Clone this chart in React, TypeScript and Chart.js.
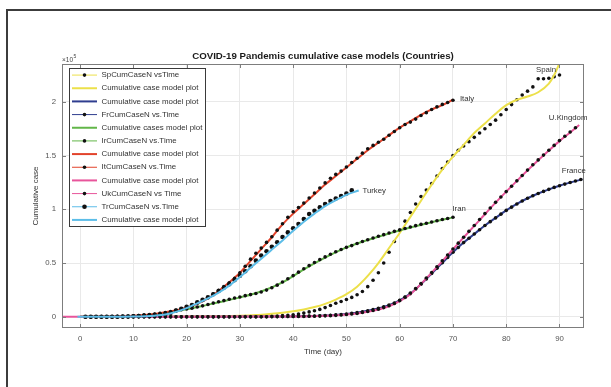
import React, { useEffect, useRef } from "react";
import { Chart, registerables } from "chart.js";
Chart.register(...registerables);

// ---------- axes ----------
const X_TICKS = [0, 10, 20, 30, 40, 50, 60, 70, 80, 90];
const Y_TICKS = [0, 0.5, 1, 1.5, 2];
const X_MIN = -3.4;
const X_MAX = 94.6;
const Y_MIN = -0.105;
const Y_MAX = 2.353;

// ---------- observed cumulative cases (x10^5), one value per day ----------
const SPAIN_START = 1;
const SPAIN_CASES = [
  0, 0, 0, 0, 0, 0, 0, 0, 0, 0, 0, 0, 0, 0, 0, 0, 0, 0, 0, 0, 0, 0, 0, 0, 0, 0, 0, 0, 0,
  0.0, 0.001, 0.001, 0.001, 0.002, 0.003, 0.005, 0.007, 0.01, 0.014,
  0.019, 0.026, 0.035, 0.045, 0.056, 0.068, 0.085, 0.105, 0.125, 0.142,
  0.16, 0.18, 0.205, 0.235, 0.28, 0.34, 0.41, 0.5, 0.6, 0.7,
  0.8, 0.89, 0.97, 1.05, 1.12, 1.18, 1.24, 1.31, 1.38, 1.44,
  1.5, 1.55, 1.59, 1.63, 1.67, 1.71, 1.75, 1.79, 1.83, 1.88,
  1.93, 1.975, 2.02, 2.065, 2.1, 2.14, 2.215, 2.215, 2.22, 2.235, 2.25,
];

const ITALY_START = 1;
const ITALY_CASES = [
  0.0, 0.0, 0.0, 0.001, 0.002, 0.002, 0.003, 0.004, 0.007, 0.009,
  0.011, 0.017, 0.02, 0.025, 0.031, 0.039, 0.046, 0.059, 0.074, 0.092,
  0.101, 0.125, 0.151, 0.177, 0.212, 0.247, 0.28, 0.315, 0.357, 0.41,
  0.47, 0.536, 0.591, 0.639, 0.692, 0.744, 0.806, 0.865, 0.925, 0.977,
  1.017, 1.058, 1.106, 1.152, 1.198, 1.246, 1.289, 1.325, 1.356, 1.394,
  1.436, 1.476, 1.523, 1.564, 1.595, 1.625, 1.652, 1.689, 1.724, 1.759,
  1.79, 1.812, 1.84, 1.873, 1.9, 1.93, 1.954, 1.977, 1.994, 2.015,
];

const IRAN_START = 1;
const IRAN_CASES = [
  0, 0, 0, 0, 0, 0.001, 0.001, 0.001, 0.002, 0.004,
  0.006, 0.01, 0.015, 0.023, 0.029, 0.035, 0.047, 0.058, 0.066, 0.072,
  0.08, 0.09, 0.101, 0.114, 0.127, 0.139, 0.15, 0.162, 0.174, 0.184,
  0.196, 0.206, 0.216, 0.23, 0.248, 0.27, 0.294, 0.323, 0.354, 0.383,
  0.415, 0.446, 0.476, 0.505, 0.532, 0.557, 0.582, 0.605, 0.626, 0.646,
  0.662, 0.682, 0.7, 0.717, 0.733, 0.749, 0.764, 0.78, 0.795, 0.809,
  0.822, 0.835, 0.848, 0.86, 0.87, 0.882, 0.893, 0.905, 0.915, 0.926,
];

const TURKEY_START = 1;
const TURKEY_CASES = [
  0, 0, 0, 0, 0, 0, 0, 0.001, 0.002, 0.004,
  0.007, 0.009, 0.012, 0.015, 0.019, 0.024, 0.036, 0.057, 0.074, 0.092,
  0.108, 0.135, 0.157, 0.181, 0.209, 0.239, 0.271, 0.302, 0.341, 0.382,
  0.423, 0.47, 0.522, 0.57, 0.61, 0.651, 0.694, 0.742, 0.785, 0.823,
  0.863, 0.91, 0.956, 0.987, 1.018, 1.049, 1.078, 1.101, 1.123, 1.147,
  1.176,
];

const UK_START = 1;
const UK_CASES = [
  0, 0, 0, 0, 0, 0, 0, 0, 0, 0, 0, 0, 0, 0, 0, 0, 0, 0, 0, 0,
  0, 0, 0, 0, 0, 0, 0, 0, 0, 0, 0, 0, 0, 0, 0,
  0.001, 0.001, 0.001, 0.002, 0.002, 0.003, 0.003, 0.004, 0.005, 0.006,
  0.008, 0.01, 0.013, 0.016, 0.02, 0.025, 0.031, 0.039, 0.048, 0.058,
  0.07, 0.085, 0.102, 0.123, 0.15, 0.182, 0.22, 0.263, 0.31, 0.36,
  0.412, 0.465, 0.52, 0.575, 0.63, 0.685, 0.74, 0.795, 0.85, 0.905,
  0.96, 1.012, 1.065, 1.115, 1.165, 1.215, 1.265, 1.315, 1.365, 1.415,
  1.46, 1.505, 1.55, 1.595, 1.64, 1.68, 1.72, 1.76,
];

const FRANCE_START = 1;
const FRANCE_CASES = [
  0, 0, 0, 0, 0, 0, 0, 0, 0, 0, 0, 0, 0, 0, 0, 0, 0, 0, 0, 0,
  0, 0, 0, 0, 0, 0, 0, 0, 0, 0, 0, 0, 0, 0, 0,
  0.001, 0.001, 0.002, 0.002, 0.003, 0.004, 0.005, 0.006, 0.007, 0.009,
  0.011, 0.014, 0.017, 0.021, 0.026, 0.031, 0.038, 0.046, 0.055, 0.066,
  0.079, 0.093, 0.109, 0.128, 0.152, 0.18, 0.215, 0.257, 0.303, 0.352,
  0.402, 0.452, 0.502, 0.552, 0.6, 0.645, 0.69, 0.73, 0.77, 0.81,
  0.85, 0.885, 0.92, 0.955, 0.99, 1.02, 1.05, 1.078, 1.103, 1.127,
  1.147, 1.167, 1.186, 1.204, 1.22, 1.235, 1.249, 1.263, 1.277,
];

// ---------- fitted model curves (x10^5) ----------
const SPAIN_MODEL_DAY = [0, 10, 20, 25, 30, 33, 36, 38, 40, 42, 44, 46, 48, 50, 52, 54, 56, 58, 60, 62, 64, 66, 68, 70, 72, 74, 76, 78, 80, 82, 84, 86, 88, 89, 90];
const SPAIN_MODEL_VAL = [0, 0.001, 0.002, 0.004, 0.008, 0.015, 0.028, 0.038, 0.05, 0.068, 0.09, 0.12, 0.16, 0.21, 0.28, 0.38, 0.5, 0.64, 0.78, 0.93, 1.08, 1.23, 1.37, 1.49, 1.6, 1.71, 1.8, 1.89, 1.97, 2.02, 2.05, 2.09, 2.17, 2.25, 2.36];

const ITALY_MODEL_DAY = [0, 5, 10, 14, 17, 20, 22, 24, 26, 28, 30, 32, 34, 36, 38, 40, 42, 44, 46, 48, 50, 52, 54, 56, 58, 60, 62, 64, 66, 68, 70];
const ITALY_MODEL_VAL = [0, 0.002, 0.008, 0.025, 0.05, 0.085, 0.12, 0.17, 0.24, 0.32, 0.41, 0.52, 0.63, 0.74, 0.86, 0.96, 1.05, 1.14, 1.23, 1.31, 1.39, 1.47, 1.55, 1.62, 1.69, 1.76, 1.82, 1.88, 1.93, 1.97, 2.02];

const IRAN_MODEL_DAY = [0, 5, 10, 14, 18, 22, 26, 30, 34, 38, 42, 46, 50, 54, 58, 62, 66, 70];
const IRAN_MODEL_VAL = [0, 0.001, 0.005, 0.02, 0.05, 0.09, 0.135, 0.18, 0.235, 0.32, 0.44, 0.55, 0.645, 0.715, 0.775, 0.83, 0.88, 0.925];

const TURKEY_MODEL_DAY = [-0.5, 5, 10, 14, 16, 18, 20, 22, 24, 26, 28, 30, 32, 34, 36, 38, 40, 42, 44, 46, 48, 50, 52.3];
const TURKEY_MODEL_VAL = [0, 0, 0.002, 0.01, 0.02, 0.045, 0.08, 0.125, 0.17, 0.225, 0.29, 0.37, 0.455, 0.54, 0.625, 0.71, 0.8, 0.885, 0.96, 1.03, 1.085, 1.135, 1.175];

const UK_MODEL_DAY = [-3.4, 0, 20, 35, 40, 45, 50, 54, 58, 60, 62, 64, 66, 68, 70, 72, 75, 78, 80, 82, 85, 88, 90, 92, 93.7];
const UK_MODEL_VAL = [0, 0, 0, 0.001, 0.002, 0.006, 0.02, 0.046, 0.098, 0.146, 0.21, 0.305, 0.41, 0.518, 0.628, 0.738, 0.9, 1.062, 1.165, 1.265, 1.41, 1.548, 1.635, 1.715, 1.785];

const FRANCE_MODEL_DAY = [0, 20, 35, 40, 45, 50, 54, 58, 60, 62, 64, 66, 68, 70, 72, 74, 76, 78, 80, 82, 84, 86, 88, 90, 92, 94.3];
const FRANCE_MODEL_VAL = [0, 0, 0.001, 0.003, 0.009, 0.026, 0.055, 0.108, 0.152, 0.215, 0.303, 0.402, 0.502, 0.6, 0.69, 0.77, 0.85, 0.92, 0.99, 1.05, 1.103, 1.147, 1.186, 1.22, 1.249, 1.28];

// ---------- text ----------
const TITLE = "COVID-19 Pandemis cumulative case models (Countries)";
const X_TITLE = "Time (day)";
const Y_TITLE = "Cumulative case";
const COUNTRY_NAMES = ["Italy", "Spain", "U.Kingdom", "France", "Iran", "Turkey"];
const COUNTRY_LABEL_DAY = [71.3, 85.6, 88, 90.4, 69.9, 53];
const COUNTRY_LABEL_VAL = [2.025, 2.3, 1.85, 1.355, 1.0, 1.17];

const C_SPAIN = "#ece04a";
const C_FRANCE = "#2f3d8f";
const C_IRAN = "#62b649";
const C_ITALY = "#e2432b";
const C_UK = "#e8559b";
const C_TURKEY = "#5cbde8";

const FONT = '"Liberation Sans", Arial, Helvetica, sans-serif';
const FRAME = "#7d7d7d";

const seq = (start: number, vals: number[]) => vals.map((v, i) => ({ x: start + i, y: v }));
const pairs = (xs: number[], ys: number[]) => xs.map((x, i) => ({ x, y: ys[i] }));

type Series = { label: string; kind: "data" | "model"; color: string; pts: { x: number; y: number }[]; big?: boolean };

const SERIES: Series[] = [
  { label: "SpCumCaseN vsTime", kind: "data", color: C_SPAIN, pts: seq(SPAIN_START, SPAIN_CASES) },
  { label: "Cumulative case model plot", kind: "model", color: C_SPAIN, pts: pairs(SPAIN_MODEL_DAY, SPAIN_MODEL_VAL) },
  { label: "Cumulative case model plot", kind: "model", color: C_FRANCE, pts: pairs(FRANCE_MODEL_DAY, FRANCE_MODEL_VAL) },
  { label: "FrCumCaseN vs.Time", kind: "data", color: C_FRANCE, pts: seq(FRANCE_START, FRANCE_CASES) },
  { label: "Cumulative cases model plot", kind: "model", color: C_IRAN, pts: pairs(IRAN_MODEL_DAY, IRAN_MODEL_VAL) },
  { label: "IrCumCaseN vs.Time", kind: "data", color: C_IRAN, pts: seq(IRAN_START, IRAN_CASES) },
  { label: "Cumulative case model plot", kind: "model", color: C_ITALY, pts: pairs(ITALY_MODEL_DAY, ITALY_MODEL_VAL) },
  { label: "ItCumCaseN vs.Time", kind: "data", color: C_ITALY, pts: seq(ITALY_START, ITALY_CASES) },
  { label: "Cumulative case model plot", kind: "model", color: C_UK, pts: pairs(UK_MODEL_DAY, UK_MODEL_VAL) },
  { label: "UkCumCaseN vs Time", kind: "data", color: C_UK, pts: seq(UK_START, UK_CASES) },
  { label: "TrCumCaseN vs.Time", kind: "data", color: C_TURKEY, pts: seq(TURKEY_START, TURKEY_CASES), big: true },
  { label: "Cumulative case model plot", kind: "model", color: C_TURKEY, pts: pairs(TURKEY_MODEL_DAY, TURKEY_MODEL_VAL) },
];

const decor = {
  id: "decor",
  afterDatasetsDraw(chart: any) {
    const { ctx, chartArea, scales } = chart;
    const { left, right, top, bottom } = chartArea;
    const xs = scales.x;
    const ys = scales.y;
    ctx.save();
    // frame
    ctx.strokeStyle = FRAME;
    ctx.lineWidth = 1;
    ctx.strokeRect(Math.round(left) + 0.5, Math.round(top) + 0.5, Math.round(right - left) - 1, Math.round(bottom - top) - 1);
    // inward ticks
    ctx.beginPath();
    X_TICKS.forEach((v) => {
      const px = Math.round(xs.getPixelForValue(v)) + 0.5;
      ctx.moveTo(px, bottom);
      ctx.lineTo(px, bottom - 4);
      ctx.moveTo(px, top);
      ctx.lineTo(px, top + 4);
    });
    Y_TICKS.forEach((v) => {
      const py = Math.round(ys.getPixelForValue(v)) + 0.5;
      ctx.moveTo(left, py);
      ctx.lineTo(left + 4, py);
      ctx.moveTo(right, py);
      ctx.lineTo(right - 4, py);
    });
    ctx.stroke();

    // country labels
    ctx.fillStyle = "#333";
    ctx.font = `7.8px ${FONT}`;
    ctx.textAlign = "left";
    ctx.textBaseline = "middle";
    COUNTRY_NAMES.forEach((n, i) => {
      ctx.fillText(n, xs.getPixelForValue(COUNTRY_LABEL_DAY[i]), ys.getPixelForValue(COUNTRY_LABEL_VAL[i]));
    });

    // legend
    const bx = 69, by = 68, bw = 136, bh = 158;
    ctx.fillStyle = "#fff";
    ctx.fillRect(bx, by, bw, bh);
    ctx.strokeStyle = "#3a3a3a";
    ctx.lineWidth = 1;
    ctx.strokeRect(bx + 0.5, by + 0.5, bw, bh);
    const rowH = bh / SERIES.length;
    SERIES.forEach((s, i) => {
      const cy = by + rowH * (i + 0.5) + 0.5;
      ctx.strokeStyle = s.color;
      ctx.lineWidth = s.kind === "model" ? 2 : 1;
      ctx.beginPath();
      ctx.moveTo(72, cy);
      ctx.lineTo(97, cy);
      ctx.stroke();
      if (s.kind === "data") {
        ctx.fillStyle = "#111";
        ctx.beginPath();
        ctx.arc(84.5, cy, s.big ? 2.3 : 1.8, 0, Math.PI * 2);
        ctx.fill();
      }
      ctx.fillStyle = "#333";
      ctx.font = `7.9px ${FONT}`;
      ctx.textAlign = "left";
      ctx.textBaseline = "middle";
      ctx.fillText(s.label, 101.5, cy);
    });

    // title
    ctx.fillStyle = "#1a1a1a";
    ctx.font = `bold 9.7px ${FONT}`;
    ctx.textAlign = "center";
    ctx.textBaseline = "middle";
    ctx.fillText(TITLE, (left + right) / 2, 56);

    // exponent
    ctx.fillStyle = "#444";
    ctx.font = `6.5px ${FONT}`;
    ctx.textAlign = "left";
    ctx.textBaseline = "alphabetic";
    ctx.fillText("\u00d710", 62, 62);
    ctx.font = `5px ${FONT}`;
    ctx.fillText("5", 73.5, 57.5);

    // axis titles
    ctx.fillStyle = "#333";
    ctx.font = `8px ${FONT}`;
    ctx.textAlign = "center";
    ctx.textBaseline = "middle";
    ctx.fillText(X_TITLE, (left + right) / 2, 352);
    ctx.translate(36, (top + bottom) / 2);
    ctx.rotate(-Math.PI / 2);
    ctx.fillText(Y_TITLE, 0, 0);
    ctx.restore();
  },
};

export default function App() {
  const ref = useRef<HTMLCanvasElement | null>(null);
  useEffect(() => {
    if (!ref.current) return;
    const n = SERIES.length;
    const datasets = SERIES.map((s, i) =>
      s.kind === "data"
        ? {
            label: s.label,
            data: s.pts,
            showLine: false,
            borderColor: s.color,
            pointRadius: s.big ? 2.3 : 1.8,
            pointBackgroundColor: "#111",
            pointBorderWidth: 0,
            pointHoverRadius: 0,
            order: n - i,
          }
        : {
            label: s.label,
            data: s.pts,
            borderColor: s.color,
            borderWidth: 2,
            pointRadius: 0,
            pointHoverRadius: 0,
            cubicInterpolationMode: "monotone" as const,
            fill: false,
            order: n - i,
          }
    );
    const chart = new Chart(ref.current, {
      type: "line",
      data: { datasets: datasets as any },
      options: {
        responsive: false,
        animation: false,
        devicePixelRatio: 1,
        layout: { padding: { left: 0, top: 64, right: 27, bottom: 0 } },
        plugins: { legend: { display: false }, title: { display: false }, tooltip: { enabled: false } },
        events: [],
        scales: {
          x: {
            type: "linear",
            min: X_MIN,
            max: X_MAX,
            afterBuildTicks: (s: any) => {
              s.ticks = X_TICKS.map((v) => ({ value: v }));
            },
            afterFit: (s: any) => {
              s.height = 59;
            },
            grid: { color: "#e9e9e9", drawTicks: false },
            border: { display: false },
            ticks: { padding: 6, color: "#555", font: { family: FONT, size: 7.8 }, callback: (v: any) => String(v), maxRotation: 0 },
          },
          y: {
            type: "linear",
            min: Y_MIN,
            max: Y_MAX,
            afterBuildTicks: (s: any) => {
              s.ticks = Y_TICKS.map((v) => ({ value: v }));
            },
            afterFit: (s: any) => {
              s.width = 62;
            },
            grid: { color: "#e9e9e9", drawTicks: false },
            border: { display: false },
            ticks: { padding: 6, color: "#555", font: { family: FONT, size: 7.8 }, callback: (v: any) => String(v) },
          },
        },
      },
      plugins: [decor],
    });
    return () => chart.destroy();
  }, []);
  return (
    <div style={{ position: "fixed", left: 0, top: 0, width: 611, height: 387, overflow: "hidden", background: "#fff" }}>
      <div
        style={{
          position: "absolute",
          left: 6,
          top: 9,
          width: 640,
          height: 420,
          borderLeft: "2px solid #3c3c3c",
          borderTop: "2px solid #3c3c3c",
        }}
      />
      <canvas ref={ref} width={611} height={387} style={{ position: "absolute", left: 0, top: 0 }} />
    </div>
  );
}
